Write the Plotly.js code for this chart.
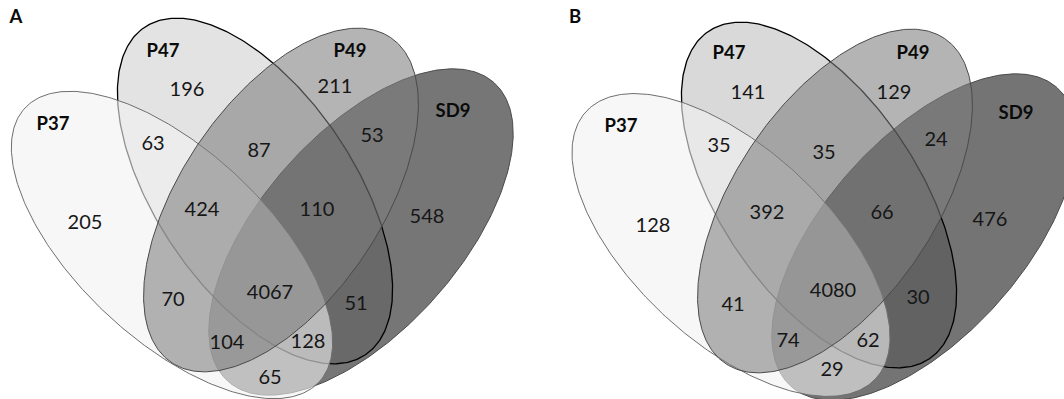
<!DOCTYPE html>
<html>
<head>
<meta charset="utf-8">
<script src="https://cdn.plot.ly/plotly-3.0.1.min.js"></script>
<style>
  html, body { margin: 0; padding: 0; background: #ffffff; }
  #chart { width: 1064px; height: 399px; }
</style>
</head>
<body>
<div id="chart"></div>
<script>
// ---------------- DATA ----------------
const PANELS = ['A', 'B'];
const SETS = ['P37', 'P47', 'P49', 'SD9'];
const REGIONS = [
  'P37', 'P47', 'P49', 'SD9',
  'P37∩P47', 'P47∩P49', 'P49∩SD9',
  'P37∩P47∩P49', 'P47∩P49∩SD9',
  'P37∩P49', 'P37∩P47∩P49∩SD9', 'P47∩SD9',
  'P37∩P49∩SD9', 'P37∩P47∩SD9',
  'P37∩SD9'
];
const COUNTS_A = [205, 196, 211, 548, 63, 87, 53, 424, 110, 70, 4067, 51, 104, 128, 65];
const COUNTS_B = [128, 141, 129, 476, 35, 35, 24, 392, 66, 41, 4080, 30, 74, 62, 29];
const COUNTS = { A: COUNTS_A, B: COUNTS_B };

// ---------------- LAYOUT / STYLE (pixel frame of the figure) ----------------
const GEOM = {
  A: {
    letter: [16, 18],
    ellipses: {
      SD9: { cx: 361, cy: 232, a: 200, b: 99, rot: -48.3 },
      P47: { cx: 255, cy: 191, a: 197.5, b: 99, rot: 56 },
      P37: { cx: 172, cy: 245, a: 201, b: 95, rot: 43 },
      P49: { cx: 281, cy: 200, a: 196, b: 100, rot: -56 }
    },
    setLabel: { P37: [53, 125], P47: [163, 52], P49: [350, 52], SD9: [453, 112] },
    regionPos: [[85, 224], [187, 91], [335, 88], [427, 218], [153, 145], [259, 152], [372, 137],
                [202, 211], [317, 211], [173, 301], [270, 294], [356, 305], [227, 344], [308, 343], [270, 379]]
  },
  B: {
    letter: [575, 18],
    ellipses: {
      SD9: { cx: 924, cy: 237, a: 200, b: 99, rot: -48.3 },
      P47: { cx: 819, cy: 195, a: 197.5, b: 99, rot: 56 },
      P37: { cx: 731, cy: 245, a: 197, b: 97, rot: 42.7 },
      P49: { cx: 835, cy: 201, a: 196, b: 100, rot: -56 }
    },
    setLabel: { P37: [621, 127], P47: [729, 54], P49: [913, 54], SD9: [1016, 114] },
    regionPos: [[653, 227], [748, 94], [894, 94], [990, 221], [719, 147], [824, 154], [936, 141],
                [767, 214], [882, 214], [733, 306], [833, 292], [918, 299], [788, 342], [868, 342], [832, 371]]
  }
};

const DRAW_ORDER = ['SD9', 'P47', 'P37', 'P49'];
const STYLE = {
  A: {
    SD9: { fill: 'rgba(118,118,118,1)', line: '#4a4a4a', width: 1 },
    P47: { fill: 'rgba(0,0,0,0.11)', line: '#000000', width: 1.3 },
    P37: { fill: 'rgba(242,242,242,0.6)', line: '#6e6e6e', width: 1 },
    P49: { fill: 'rgba(125,125,125,0.577)', line: '#4a4a4a', width: 1 }
  },
  B: {
    SD9: { fill: 'rgba(116,116,116,1)', line: '#4a4a4a', width: 1 },
    P47: { fill: 'rgba(0,0,0,0.15)', line: '#000000', width: 1.3 },
    P37: { fill: 'rgba(242,242,242,0.6)', line: '#6e6e6e', width: 1 },
    P49: { fill: 'rgba(125,125,125,0.577)', line: '#4a4a4a', width: 1 }
  }
};

const NUM_FONT = { family: 'Lato, "Open Sans", sans-serif', size: 20, color: '#161616' };
const LBL_FONT = { family: 'Lato, "Open Sans", sans-serif', size: 18.5, color: '#0a0a0a', weight: 'bold' };

function ellipsePath(e, n) {
  const th = e.rot * Math.PI / 180;
  const xs = [], ys = [];
  for (let i = 0; i <= n; i++) {
    const t = 2 * Math.PI * i / n;
    const u = e.a * Math.cos(t), v = e.b * Math.sin(t);
    xs.push(e.cx + u * Math.cos(th) - v * Math.sin(th));
    ys.push(e.cy + u * Math.sin(th) + v * Math.cos(th));
  }
  return { xs, ys };
}

const traces = [];
PANELS.forEach(p => {
  const g = GEOM[p];
  DRAW_ORDER.forEach(s => {
    const pth = ellipsePath(g.ellipses[s], 360);
    const st = STYLE[p][s];
    traces.push({
      type: 'scatter', mode: 'lines', x: pth.xs, y: pth.ys,
      fill: 'toself', fillcolor: st.fill,
      line: { color: st.line, width: st.width },
      hoverinfo: 'skip', showlegend: false, name: p + ' ' + s
    });
  });
});

PANELS.forEach(p => {
  const g = GEOM[p];
  traces.push({
    type: 'scatter', mode: 'text',
    x: g.regionPos.map(q => q[0]), y: g.regionPos.map(q => q[1]),
    text: COUNTS[p].map(String),
    customdata: REGIONS,
    textposition: 'middle center', textfont: NUM_FONT,
    hovertemplate: '%{customdata}: %{text}<extra></extra>', showlegend: false
  });
  traces.push({
    type: 'scatter', mode: 'text',
    x: SETS.map(s => g.setLabel[s][0]).concat([g.letter[0]]),
    y: SETS.map(s => g.setLabel[s][1]).concat([g.letter[1]]),
    text: SETS.concat([p]),
    textposition: 'middle center', textfont: LBL_FONT,
    hoverinfo: 'skip', showlegend: false
  });
});

const layout = {
  width: 1064, height: 399,
  margin: { l: 0, r: 0, t: 0, b: 0, pad: 0 },
  paper_bgcolor: '#ffffff', plot_bgcolor: '#ffffff',
  showlegend: false,
  xaxis: { range: [0, 1064], visible: false, fixedrange: true },
  yaxis: { range: [399, 0], visible: false, fixedrange: true }
};

Plotly.newPlot('chart', traces, layout, { displayModeBar: false, staticPlot: true });
</script>
</body>
</html>
